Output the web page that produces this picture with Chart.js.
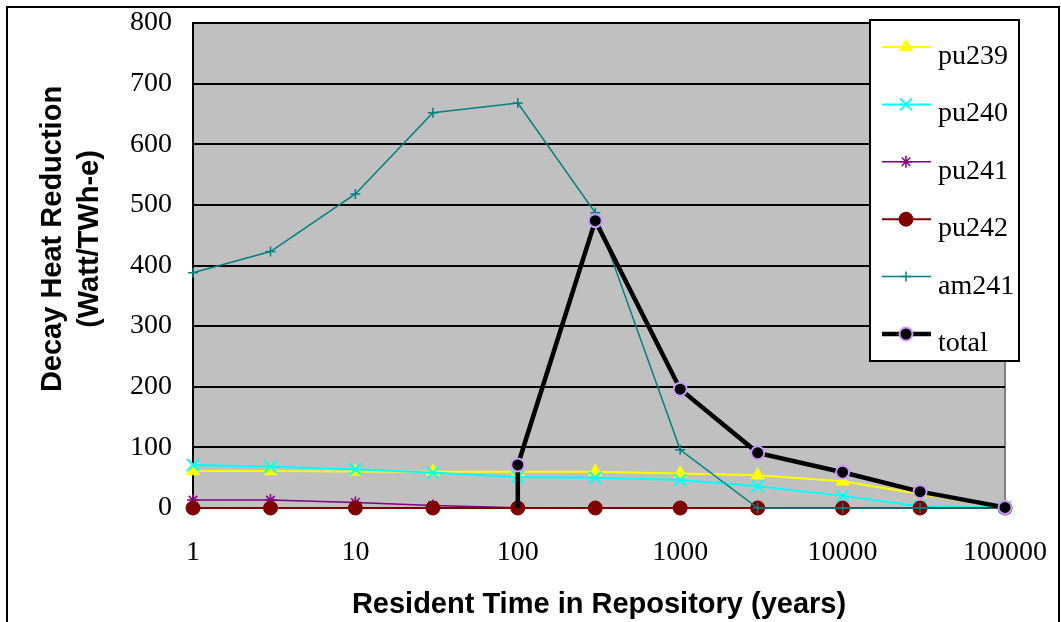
<!DOCTYPE html>
<html>
<head>
<meta charset="utf-8">
<script src="https://cdn.jsdelivr.net/npm/chart.js@4.4.1/dist/chart.umd.min.js"></script>
<style>
  html, body { margin: 0; padding: 0; background: #ffffff; }
  #wrap { width: 1061px; height: 622px; position: relative; }
</style>
</head>
<body>
<div id="wrap"><canvas id="c" width="1061" height="622"></canvas></div>
<script>
// ---- data ----
const years = [1, 3, 10, 30, 100, 300, 1000, 3000, 10000, 30000, 100000];
const pu239 = [61, 61, 60, 60, 60, 60, 57, 54, 44, 23, 1];
const pu240 = [71, 68, 64, 58, 51, 50, 46, 36, 20, 3, 1];
const pu241 = [13, 13, 9, 4, 0.5, 0, 0, 0, 0, 0, 0];
const pu242 = [0, 0, 0, 0, 0, 0, 0, 0, 0, 0, 0];
const am241 = [388, 423, 518, 652, 668, 487, 96, 0, 0, 0, 0];
const totalYears = [100, 100, 300, 1000, 3000, 10000, 30000, 100000];
const totalValues = [0, 71, 474, 196, 91, 59, 27, 1];
const xTickValues = [1, 10, 100, 1000, 10000, 100000];
const seriesNames = ['pu239', 'pu240', 'pu241', 'pu242', 'am241', 'total'];
const xTitle = 'Resident Time in Repository (years)';
const yTitle = ['Decay Heat Reduction', '(Watt/TWh-e)'];

const pts = (xs, ys) => xs.map((x, i) => ({ x: x, y: ys[i] }));

const serif = "'Liberation Serif', 'Times New Roman', serif";
const sansB = "'Liberation Sans', Arial, sans-serif";

function ds(label, data, color, style, radius, lw, plw, order, extra) {
  return Object.assign({
    label: label,
    data: data,
    borderColor: color,
    backgroundColor: color,
    pointBackgroundColor: color,
    pointBorderColor: color,
    pointStyle: style,
    pointRadius: radius,
    pointBorderWidth: plw,
    borderWidth: lw,
    tension: 0,
    clip: false,
    order: order
  }, extra || {});
}

const datasets = [
  ds(seriesNames[0], pts(years, pu239), '#FFFF00', 'triangle', 7.5, 2, 1, 6),
  ds(seriesNames[1], pts(years, pu240), '#00FFFF', 'crossRot', 8.5, 2, 2, 5),
  ds(seriesNames[2], pts(years, pu241), '#800080', 'star', 6, 1.5, 1.5, 4),
  ds(seriesNames[3], pts(years, pu242), '#800000', 'circle', 7, 2, 1, 3),
  ds(seriesNames[4], pts(years, am241), '#008080', 'cross', 5, 1.5, 1.5, 2),
  ds(seriesNames[5], pts(totalYears, totalValues), '#000000', 'circle', 6.5, 4.5, 2, 1, {
    pointBackgroundColor: '#000000',
    pointBorderColor: '#CC99FF',
    pointRadius: totalValues.map((v, i) => (i === 0 ? 0 : 6.5))
  })
];

const framePlugin = {
  id: 'frame',
  beforeDraw(chart) {
    const ctx = chart.ctx, a = chart.chartArea;
    ctx.save();
    ctx.fillStyle = '#ffffff';
    ctx.fillRect(0, 0, chart.width, chart.height);
    ctx.fillStyle = '#C0C0C0';
    ctx.fillRect(a.left, a.top, a.right - a.left, a.bottom - a.top);
    ctx.strokeStyle = '#808080';
    ctx.lineWidth = 2;
    ctx.beginPath();
    ctx.moveTo(a.right, a.top);
    ctx.lineTo(a.right, a.bottom);
    ctx.stroke();
    // outer chart border
    ctx.strokeStyle = '#000000';
    ctx.lineWidth = 2;
    ctx.strokeRect(7, 7, 1052, 700);
    ctx.restore();
  },
  afterDraw(chart) {
    const ctx = chart.ctx, a = chart.chartArea;
    ctx.save();
    // y axis title (two lines, rotated)
    ctx.fillStyle = '#000000';
    ctx.font = 'bold 29px ' + sansB;
    ctx.textAlign = 'center';
    ctx.textBaseline = 'middle';
    const lineXs = [53, 90];
    yTitle.forEach((t, i) => {
      ctx.save();
      ctx.translate(lineXs[i], 239);
      ctx.rotate(-Math.PI / 2);
      ctx.fillText(t, 0, 0);
      ctx.restore();
    });
    // legend box
    const lx = a.right - 135, ly = a.top - 3, lw = 149, lh = 341;
    ctx.fillStyle = '#ffffff';
    ctx.fillRect(lx, ly, lw, lh);
    ctx.strokeStyle = '#000000';
    ctx.lineWidth = 2;
    ctx.strokeRect(lx, ly, lw, lh);
    chart.data.datasets.forEach((d, i) => {
      const yc = ly + 27 + i * 57.4;
      ctx.strokeStyle = d.borderColor;
      ctx.lineWidth = d.borderWidth;
      ctx.beginPath();
      ctx.moveTo(lx + 12, yc);
      ctx.lineTo(lx + 61, yc);
      ctx.stroke();
      ctx.fillStyle = d.pointBackgroundColor;
      ctx.strokeStyle = d.pointBorderColor;
      ctx.lineWidth = d.pointBorderWidth;
      const r = Array.isArray(d.pointRadius) ? d.pointRadius[d.pointRadius.length - 1] : d.pointRadius;
      Chart.helpers.drawPoint(ctx, { pointStyle: d.pointStyle, radius: r, borderWidth: d.pointBorderWidth, rotation: 0 }, lx + 36, yc);
      ctx.fillStyle = '#000000';
      ctx.font = '28px ' + serif;
      ctx.textAlign = 'left';
      ctx.textBaseline = 'alphabetic';
      ctx.fillText(d.label, lx + 68, yc + 17);
    });
    ctx.restore();
  }
};

new Chart(document.getElementById('c'), {
  type: 'line',
  data: { datasets: datasets },
  plugins: [framePlugin],
  options: {
    responsive: false,
    animation: false,
    devicePixelRatio: 1,
    layout: { padding: { left: 0, top: 23, right: 56, bottom: 0 } },
    plugins: { legend: { display: false }, tooltip: { enabled: false } },
    scales: {
      x: {
        type: 'logarithmic',
        min: 1,
        max: 100000,
        afterBuildTicks(scale) { scale.ticks = xTickValues.map(v => ({ value: v })); },
        afterFit(scale) {
          scale.height = 114;
          scale.paddingLeft = 0; scale.paddingRight = 0;
          scale.paddingTop = 0; scale.paddingBottom = 0;
        },
        grid: { display: false, drawTicks: false },
        border: { display: false },
        ticks: {
          autoSkip: false,
          maxRotation: 0,
          padding: 28,
          color: '#000000',
          font: { family: serif, size: 28 },
          callback: (v) => String(v)
        },
        title: {
          display: true,
          text: xTitle,
          color: '#000000',
          font: { family: sansB, size: 29, weight: 'bold', lineHeight: 1.2 },
          padding: { top: 0, bottom: 0 }
        }
      },
      y: {
        min: 0,
        max: 800,
        afterFit(scale) {
          scale.width = 193;
          scale.paddingLeft = 0; scale.paddingRight = 0;
          scale.paddingTop = 0; scale.paddingBottom = 0;
        },
        grid: { color: '#000000', lineWidth: 2, drawTicks: false },
        border: { display: true, color: '#000000', width: 2 },
        ticks: {
          stepSize: 100,
          padding: 21,
          color: '#000000',
          font: { family: serif, size: 28 }
        }
      }
    }
  }
});
</script>
</body>
</html>
